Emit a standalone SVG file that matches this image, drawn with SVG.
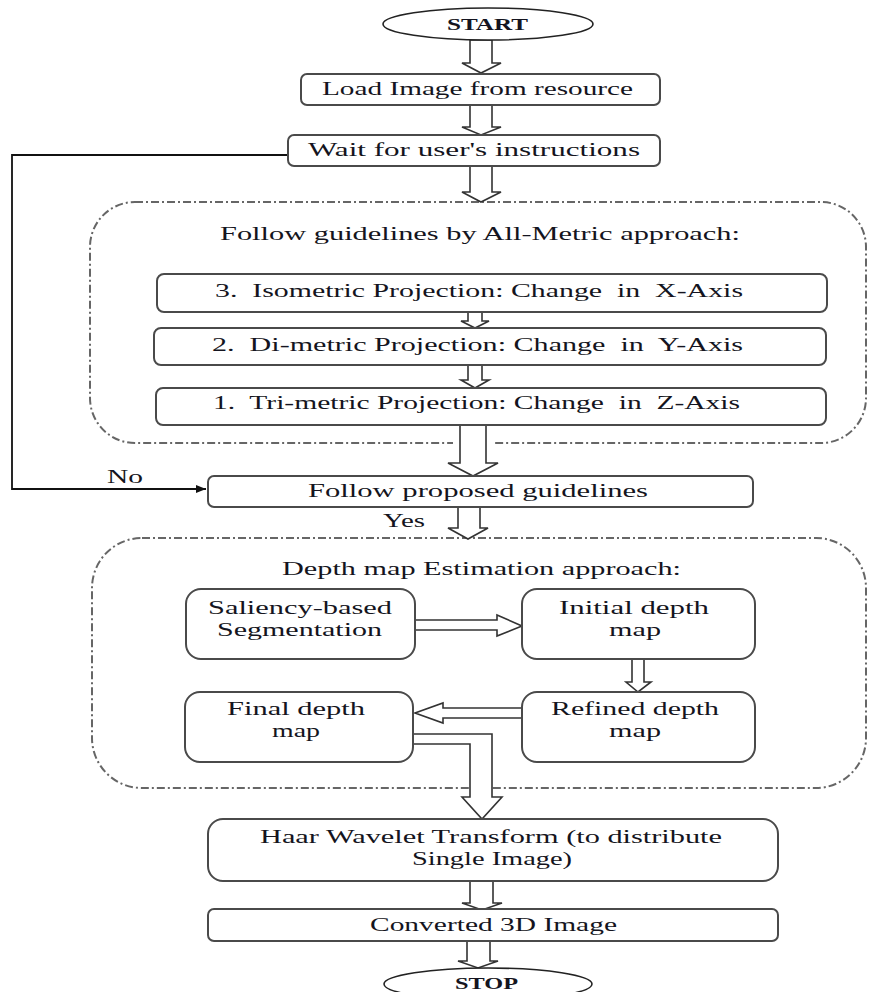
<svg xmlns="http://www.w3.org/2000/svg" width="869" height="992" viewBox="0 0 869 992">
<style>
  text { font-family: "Liberation Serif", "Times New Roman", serif; font-size: 19px; fill: #141420; }
  .pre { white-space: pre; }
  .b { font-weight: bold; font-size: 17px; }
  .node { fill: #fff; stroke: #4a4a4a; stroke-width: 2; }
  .term { fill: #fff; stroke: #222; stroke-width: 1.6; }
  .grp { fill: none; stroke: #666; stroke-width: 2; stroke-dasharray: 8 3 2 3; }
  .blk { fill: #fff; stroke: #333; stroke-width: 1.6; stroke-linejoin: miter; }
  .ln { fill: none; stroke: #111; stroke-width: 1.8; }
</style>
<defs>
  <marker id="ah" viewBox="0 0 10 10" refX="10" refY="5" markerWidth="10" markerHeight="10" markerUnits="userSpaceOnUse" orient="auto">
    <path d="M0,1 L10,5 L0,9 Z" fill="#111"/>
  </marker>
</defs>

<g id="group-allmetric">
  <rect class="grp" x="90" y="202" width="776" height="241" rx="45"/>
  <text x="220" y="240" textLength="520" lengthAdjust="spacingAndGlyphs">Follow guidelines by All-Metric approach:</text>
</g>
<g id="group-depth">
  <rect class="grp" x="92" y="538" width="774" height="250" rx="50"/>
  <text x="282" y="575" textLength="399" lengthAdjust="spacingAndGlyphs">Depth map Estimation approach:</text>
</g>

<g id="connectors">
  <path class="ln" d="M288,155 L12,155 L12,489 L206,489" marker-end="url(#ah)"/>
  <text x="107" y="483" textLength="36" lengthAdjust="spacingAndGlyphs">No</text>
  <text x="383" y="527" textLength="42" lengthAdjust="spacingAndGlyphs">Yes</text>
  <path class="blk" d="M470,40 L492,40 L492,63 L501,63 L481,73 L462,63 L470,63 Z"/>
  <path class="blk" d="M470,105 L492,105 L492,127 L501,127 L481,135 L462,127 L470,127 Z"/>
  <path class="blk" d="M470,166 L492,166 L492,192 L501,192 L481,202 L462,192 L470,192 Z"/>
  <path class="blk" d="M468,312 L482,312 L482,321 L489,321 L475,328 L461,321 L468,321 Z"/>
  <path class="blk" d="M468,365 L482,365 L482,380 L489,380 L475,388 L461,380 L468,380 Z"/>
  <rect x="453" y="436" width="42" height="12" fill="#fff"/>
  <path class="blk" d="M460,425 L486,425 L486,463 L498,463 L473,476 L448,463 L460,463 Z"/>
  <path class="blk" d="M458,507 L480,507 L480,528 L488,528 L468,539 L448,528 L458,528 Z"/>
  <path class="blk" d="M415,620 L497,620 L497,615 L522,626 L497,636 L497,630 L415,630 Z"/>
  <path class="blk" d="M632,659 L644,659 L644,682 L651,682 L638,692 L626,682 L632,682 Z"/>
  <path class="blk" d="M522,708 L443,708 L443,703 L415,713 L443,723 L443,718 L522,718 Z"/>
  <path class="blk" d="M413,734 L492,734 L492,797 L502,797 L482,819 L462,797 L470,797 L470,744 L413,744 Z"/>
  <path class="blk" d="M470,881 L493,881 L493,903 L502,903 L482,910 L462,903 L470,903 Z"/>
  <path class="blk" d="M467,941 L490,941 L490,961 L498,961 L478,968 L458,961 L467,961 Z"/>
</g>

<g id="start">
  <ellipse class="term" cx="488" cy="24" rx="105" ry="16"/>
  <text class="b" x="447" y="30" textLength="81" lengthAdjust="spacingAndGlyphs">START</text>
</g>
<g id="load">
  <rect class="node" x="301" y="74" width="359" height="31" rx="6"/>
  <text x="322" y="95" textLength="311" lengthAdjust="spacingAndGlyphs">Load Image from resource</text>
</g>
<g id="wait">
  <rect class="node" x="288" y="135" width="372" height="31" rx="6"/>
  <text x="308" y="156" textLength="332" lengthAdjust="spacingAndGlyphs">Wait for user's instructions</text>
</g>
<g id="iso">
  <rect class="node" x="157" y="274" width="670" height="38" rx="7"/>
  <text class="pre" xml:space="preserve" x="215" y="297" textLength="528" lengthAdjust="spacingAndGlyphs">3.  Isometric Projection: Change  in  X-Axis</text>
</g>
<g id="di">
  <rect class="node" x="154" y="328" width="672" height="37" rx="7"/>
  <text class="pre" xml:space="preserve" x="212" y="351" textLength="531" lengthAdjust="spacingAndGlyphs">2.  Di-metric Projection: Change  in  Y-Axis</text>
</g>
<g id="tri">
  <rect class="node" x="156" y="388" width="670" height="37" rx="7"/>
  <text class="pre" xml:space="preserve" x="213" y="409" textLength="527" lengthAdjust="spacingAndGlyphs">1.  Tri-metric Projection: Change  in  Z-Axis</text>
</g>
<g id="follow">
  <rect class="node" x="208" y="476" width="545" height="31" rx="6"/>
  <text x="308" y="497" textLength="340" lengthAdjust="spacingAndGlyphs">Follow proposed guidelines</text>
</g>
<g id="saliency">
  <rect class="node" x="186" y="589" width="229" height="70" rx="15"/>
  <text x="208" y="614" textLength="184" lengthAdjust="spacingAndGlyphs">Saliency-based</text>
  <text x="217" y="636" textLength="165" lengthAdjust="spacingAndGlyphs">Segmentation</text>
</g>
<g id="initial">
  <rect class="node" x="522" y="589" width="233" height="70" rx="15"/>
  <text x="559" y="614" textLength="150" lengthAdjust="spacingAndGlyphs">Initial depth</text>
  <text x="609" y="636" textLength="52" lengthAdjust="spacingAndGlyphs">map</text>
</g>
<g id="refined">
  <rect class="node" x="522" y="692" width="233" height="70" rx="15"/>
  <text x="551" y="715" textLength="168" lengthAdjust="spacingAndGlyphs">Refined depth</text>
  <text x="609" y="737" textLength="52" lengthAdjust="spacingAndGlyphs">map</text>
</g>
<g id="final">
  <rect class="node" x="185" y="692" width="228" height="70" rx="15"/>
  <text x="227" y="715" textLength="138" lengthAdjust="spacingAndGlyphs">Final depth</text>
  <text x="272" y="737" textLength="48" lengthAdjust="spacingAndGlyphs">map</text>
</g>
<g id="haar">
  <rect class="node" x="208" y="819" width="570" height="62" rx="15"/>
  <text x="260" y="843" textLength="462" lengthAdjust="spacingAndGlyphs">Haar Wavelet Transform (to distribute</text>
  <text x="412" y="865" textLength="160" lengthAdjust="spacingAndGlyphs">Single Image)</text>
</g>
<g id="converted">
  <rect class="node" x="208" y="909" width="570" height="32" rx="6"/>
  <text x="370" y="931" textLength="247" lengthAdjust="spacingAndGlyphs">Converted 3D Image</text>
</g>
<g id="stop">
  <ellipse class="term" cx="488" cy="984" rx="104" ry="16"/>
  <text class="b" x="455" y="989" textLength="63" lengthAdjust="spacingAndGlyphs">STOP</text>
</g>
</svg>
